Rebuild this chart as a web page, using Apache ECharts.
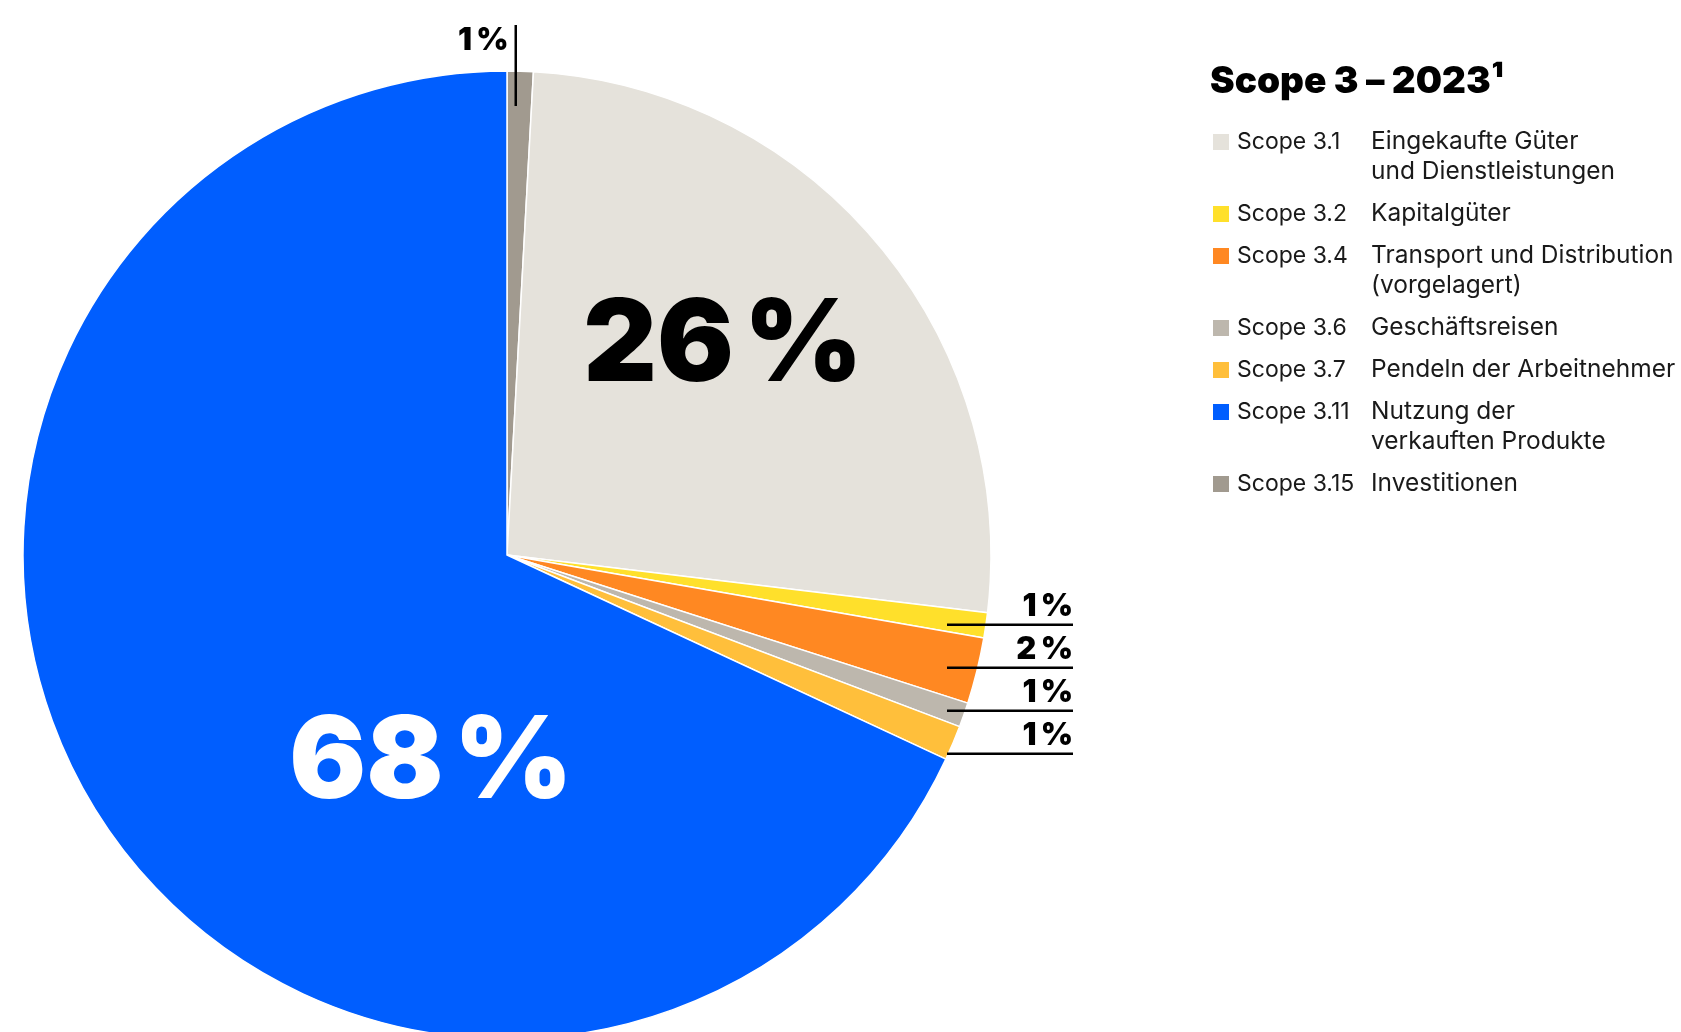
<!DOCTYPE html>
<html>
<head>
<meta charset="utf-8">
<script src="https://cdn.jsdelivr.net/npm/echarts@6/dist/echarts.min.js"></script>
<style>
  html, body { margin: 0; padding: 0; background: #ffffff; }
  #chart { width: 1681px; height: 1032px; }
</style>
</head>
<body>
<div id="chart"></div>
<script>
// ---- data (drawing order, clockwise from 12 o'clock) ----
const categories = ['Scope 3.15', 'Scope 3.1', 'Scope 3.2', 'Scope 3.4', 'Scope 3.6', 'Scope 3.7', 'Scope 3.11'];
const descriptions = ['Investitionen', 'Eingekaufte Güter\nund Dienstleistungen', 'Kapitalgüter',
  'Transport und Distribution\n(vorgelagert)', 'Geschäftsreisen', 'Pendeln der Arbeitnehmer',
  'Nutzung der\nverkauften Produkte'];
const shares = [0.87, 26.03, 0.84, 2.21, 0.82, 1.16, 68.07];
const legendOrder = ['Scope 3.1', 'Scope 3.2', 'Scope 3.4', 'Scope 3.6', 'Scope 3.7', 'Scope 3.11', 'Scope 3.15'];
const chartTitle = 'Scope 3 \u2013 2023\u00B9';

// ---- styles ----
const colors = ['#a19a8f', '#e5e2db', '#ffe02b', '#ff8822', '#bdb7ad', '#ffbf3b', '#005eff'];
const FONT = 'Inter';
const TEXT = '#1a1a1a';

// label placement (layout only): kind 'big' | 'under' (underlined) | 'side' (vertical leader)
const labelPlace = {
  'Scope 3.15': { kind: 'side',  x: 517, y: 25, align: 'right', va: 'top' },
  'Scope 3.1':  { kind: 'big',   x: 723, y: 347, align: 'center', va: 'middle', color: '#000000' },
  'Scope 3.2':  { kind: 'under', x: 1073, y: 626, align: 'right', va: 'bottom' },
  'Scope 3.4':  { kind: 'under', x: 1073, y: 669, align: 'right', va: 'bottom' },
  'Scope 3.6':  { kind: 'under', x: 1073, y: 712, align: 'right', va: 'bottom' },
  'Scope 3.7':  { kind: 'under', x: 1073, y: 755, align: 'right', va: 'bottom' },
  'Scope 3.11': { kind: 'big',   x: 431, y: 764, align: 'center', va: 'middle', color: '#ffffff' }
};

const pieData = categories.map(function (name, i) {
  const item = { name: name, value: shares[i], itemStyle: { color: colors[i] } };
  const pl = labelPlace[name];
  if (pl.kind === 'big') {
    item.label = { position: 'inside', color: pl.color };
  }
  return item;
});

// legend rich styles
const rich = {
  g: { width: 8, height: 16, lineHeight: 30 },
  s: { width: 134, fontFamily: FONT, fontSize: 23, color: TEXT, lineHeight: 30 },
  d: { fontFamily: FONT, fontSize: 24.5, color: TEXT, lineHeight: 30 },
  e: { width: 158, lineHeight: 30 }
};
categories.forEach(function (name, i) {
  rich['sq' + i] = { width: 16, height: 16, backgroundColor: colors[i], lineHeight: 30 };
});

// pie label rich styles
const labelRich = {
  b:  { fontFamily: FONT, fontWeight: 900, fontSize: 114, lineHeight: 114 },
  bs: { width: 10, height: 10, lineHeight: 114 },
  t:  { fontFamily: FONT, fontWeight: 900, fontSize: 31, lineHeight: 33, color: '#000000', align: 'right' },
  tt: { fontFamily: FONT, fontWeight: 900, fontSize: 31, lineHeight: 31, color: '#000000', verticalAlign: 'top' },
  u:  { width: 126, height: 2.5, lineHeight: 2.5, backgroundColor: '#000000', align: 'right' },
  gs: { width: 6, height: 2, lineHeight: 2 },
  v:  { width: 2.5, height: 81, lineHeight: 81, backgroundColor: '#000000', verticalAlign: 'top' }
};

const chart = echarts.init(document.getElementById('chart'), null, { renderer: 'canvas' });
chart.setOption({
  backgroundColor: '#ffffff',
  animation: false,
  title: {
    text: chartTitle,
    left: 1210,
    top: 63,
    padding: 0,
    textStyle: { fontFamily: FONT, fontWeight: 900, fontSize: 37, lineHeight: 37, color: '#000000' }
  },
  legend: {
    orient: 'vertical',
    left: 1208,
    top: 127,
    padding: 0,
    itemGap: 12,
    itemWidth: 0,
    itemHeight: 30,
    icon: 'none',
    selectedMode: false,
    data: legendOrder,
    textStyle: { fontFamily: FONT, fontSize: 24.5, color: TEXT, lineHeight: 30, rich: rich },
    formatter: function (name) {
      const i = categories.indexOf(name);
      const lines = descriptions[i].split('\n');
      let s = '{sq' + i + '|}{g|}{s|' + name + '}{d|' + lines[0] + '}';
      for (let k = 1; k < lines.length; k++) {
        s += '\n{e|}{d|' + lines[k] + '}';
      }
      return s;
    }
  },
  series: [{
    type: 'pie',
    center: [507, 555],
    radius: [0, 484],
    startAngle: 90,
    clockwise: true,
    avoidLabelOverlap: false,
    itemStyle: { borderColor: '#ffffff', borderWidth: 1.5 },
    emphasis: { disabled: true },
    label: {
      show: true,
      position: 'outside',
      fontFamily: FONT,
      fontWeight: 900,
      fontSize: 31,
      color: '#000000',
      rich: labelRich,
      formatter: function (p) {
        const n = Math.round(p.value);
        const kind = labelPlace[p.name].kind;
        if (kind === 'big') return '{b|' + n + '}{bs|}{b|%}';
        if (kind === 'under') return '{t|' + n + '\u2009%}\n{u|}';
        return '{tt|' + n + '\u2009%}{gs|}{v|}';
      }
    },
    labelLine: { show: false },
    labelLayout: function (p) {
      const pl = labelPlace[categories[p.dataIndex]];
      return { x: pl.x, y: pl.y, align: pl.align, verticalAlign: pl.va };
    },
    data: pieData
  }]
});
</script>
</body>
</html>
